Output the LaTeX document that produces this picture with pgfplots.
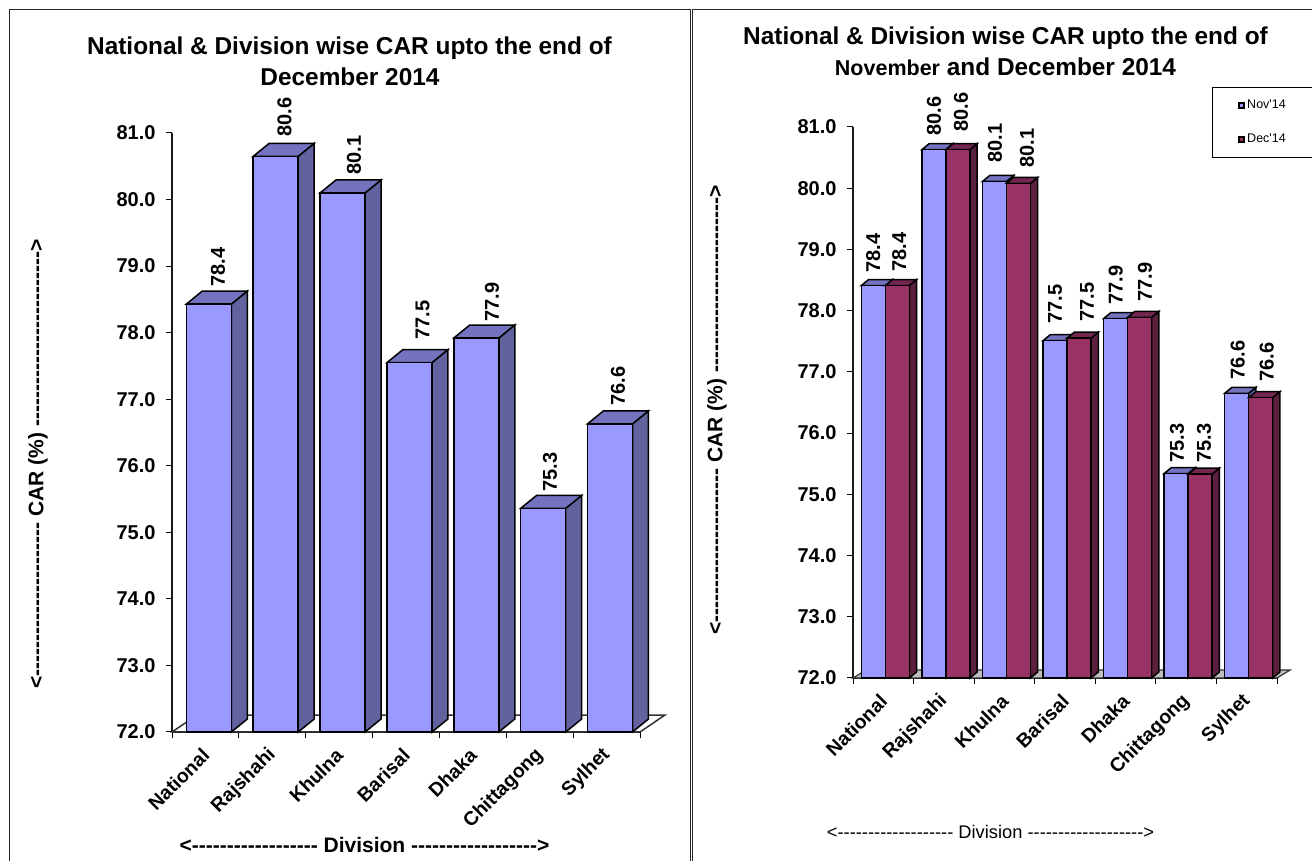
\documentclass[border=0pt]{standalone}
\usepackage{fontspec}
\setmainfont{Liberation Sans}[Ligatures=TeXOff]
\usepackage{pgfplots}
\pgfplotsset{compat=1.18}

\definecolor{blueF}{HTML}{9999FF}
\definecolor{blueS}{HTML}{62629F}
\definecolor{blueT}{HTML}{7373BF}
\definecolor{redF}{HTML}{993366}
\definecolor{redS}{HTML}{5C1F3D}
\definecolor{redT}{HTML}{732650}
\definecolor{floorG}{HTML}{C0C0C0}

\newcommand{\fs}[1]{\fontsize{#1}{#1}\selectfont}

% side and top faces of a bar: left, right, value, side colour, top colour
\newcommand{\depth}[5]{%
  \pgfmathsetmacro\xl{#1+\depx}%
  \pgfmathsetmacro\xr{#2+\depx}%
  \pgfmathsetmacro\yt{#3+\depy}%
  \pgfmathsetmacro\yb{72+\depy}%
  \addplot[forget plot,fill=#4,draw=black,line width=1.5pt] coordinates {(#2,72) (\xr,\yb) (\xr,\yt) (#2,#3)} --cycle;
  \addplot[forget plot,fill=#5,draw=black,line width=1.5pt] coordinates {(#1,#3) (\xl,\yt) (\xr,\yt) (#2,#3)} --cycle;
}

\pgfplotsset{
  car/.style={
    scale only axis,
    anchor=south west,
    clip=false,
    xmin=0, xmax=7, ymin=72, ymax=81,
    axis x line=bottom, axis y line=left,
    axis line style={black!90,line width=2pt,-},
    tick style={black,line width=1pt},
    tick align=outside,
    major tick length=6pt,
    xtick={0,1,2,3,4,5,6,7},
    xticklabels={,,,,,,,},
    ytick={72,73,74,75,76,77,78,79,80,81},
    yticklabel style={font=\fs{20}\bfseries,xshift=-7pt,/pgf/number format/.cd,fixed,fixed zerofill,precision=1,assume math mode=true},
    extra x ticks={0.5,1.5,2.5,3.5,4.5,5.5,6.5},
    extra x tick labels={National,Rajshahi,Khulna,Barisal,Dhaka,Chittagong,Sylhet},
    extra x tick style={major tick length=0pt,
      xticklabel style={font=\fs{19.5}\bfseries,rotate=45,anchor=east,xshift=-10.5pt,yshift=-14.5pt}},
  },
}

\begin{document}
\begin{tikzpicture}[x=1pt,y=1pt]
\useasboundingbox (0,0) rectangle (1312,861);

% left chart
\begin{axis}[car,at={(172pt,129pt)},width=468pt,height=599pt]
  \def\depx{0.239}\def\depy{0.195}
  \addplot[forget plot,fill=white,draw=black!80,line width=1.5pt] coordinates {(0,72) (7,72) (7.374,72.255) (0.374,72.255)} --cycle;
  \depth{0.215}{0.888}{78.43}{blueS}{blueT}
  \depth{1.215}{1.888}{80.65}{blueS}{blueT}
  \depth{2.215}{2.888}{80.10}{blueS}{blueT}
  \depth{3.215}{3.888}{77.55}{blueS}{blueT}
  \depth{4.215}{4.888}{77.92}{blueS}{blueT}
  \depth{5.215}{5.888}{75.36}{blueS}{blueT}
  \depth{6.215}{6.888}{76.63}{blueS}{blueT}
  \addplot[ybar,bar width=45pt,bar shift=0pt,fill=blueF,draw=black,line width=1.5pt] coordinates {
    (0.5515,78.43) (1.5515,80.65) (2.5515,80.10) (3.5515,77.55) (4.5515,77.92) (5.5515,75.36) (6.5515,76.63)};
\end{axis}

% right chart
\begin{axis}[car,at={(853pt,183pt)},width=424pt,height=551pt,
    legend style={at={(0.847,1.073)},anchor=north west,draw=black,line width=1pt,
      font=\fs{12.5},inner xsep=25pt,inner ysep=11pt,row sep=20pt},
    legend cell align=left]
  \def\depx{0.12}\def\depy{0.098}
  \addplot[forget plot,fill=floorG,draw=black!80,line width=1.2pt] coordinates {(0,72) (7,72) (7.2145,72.13) (0.2145,72.13)} --cycle;
  \depth{0.137}{0.533}{78.41}{blueS}{blueT}
  \depth{1.137}{1.533}{80.63}{blueS}{blueT}
  \depth{2.137}{2.533}{80.11}{blueS}{blueT}
  \depth{3.137}{3.533}{77.51}{blueS}{blueT}
  \depth{4.137}{4.533}{77.87}{blueS}{blueT}
  \depth{5.137}{5.533}{75.34}{blueS}{blueT}
  \depth{6.137}{6.533}{76.65}{blueS}{blueT}
  \addplot[ybar,bar width=24pt,bar shift=0pt,fill=blueF,draw=black,line width=1.5pt,
      legend image code/.code={\draw[fill=blueF,draw=black,line width=2pt] (0pt,-2.8pt) rectangle (5.6pt,2.8pt);}] coordinates {
    (0.335,78.41) (1.335,80.63) (2.335,80.11) (3.335,77.51) (4.335,77.87) (5.335,75.34) (6.335,76.65)};
  \addlegendentry{Nov'14}
  \depth{0.533}{0.929}{78.41}{redS}{redT}
  \depth{1.533}{1.929}{80.63}{redS}{redT}
  \depth{2.533}{2.929}{80.08}{redS}{redT}
  \depth{3.533}{3.929}{77.55}{redS}{redT}
  \depth{4.533}{4.929}{77.89}{redS}{redT}
  \depth{5.533}{5.929}{75.33}{redS}{redT}
  \depth{6.533}{6.929}{76.58}{redS}{redT}
  \addplot[ybar,bar width=24pt,bar shift=0pt,fill=redF,draw=black,line width=1.5pt,
      legend image code/.code={\draw[fill=redF,draw=black,line width=2pt] (0pt,-2.8pt) rectangle (5.6pt,2.8pt);}] coordinates {
    (0.731,78.41) (1.731,80.63) (2.731,80.08) (3.731,77.55) (4.731,77.89) (5.731,75.33) (6.731,76.58)};
  \addlegendentry{Dec'14}
\end{axis}

% frames, titles, axis captions and value labels, in pixels from the top left
\begin{scope}[shift={(0,861)},x=1pt,y=-1pt]
  \draw[black!85,line width=1pt] (9.5,861) -- (9.5,10) -- (690.5,10) -- (690.5,861);
  \draw[black!85,line width=1pt] (692.7,861) -- (692.7,10) -- (1312,10);

  \node[font=\fs{24.4}\bfseries,inner sep=0pt] at (349.5,48) {National \& Division wise CAR upto the end of};
  \node[font=\fs{24.4}\bfseries,inner sep=0pt] at (350,77) {December 2014};
  \node[font=\fs{24.4}\bfseries,inner sep=0pt] at (1005.5,38) {National \& Division wise CAR upto the end of};
  \node[font=\fs{24.4}\bfseries,inner sep=0pt] at (1005.5,67) {{\fs{21.5}November} and December 2014};

  \node[font=\fs{21}\bfseries,inner sep=0pt,rotate=90] at (38,464) {<---------------------- CAR (\%) ------------------------->};
  \node[font=\fs{21}\bfseries,inner sep=0pt,rotate=90] at (717,410) {<---------------------- CAR (\%) ------------------------->};
  \node[font=\fs{21}\bfseries,inner sep=0pt] at (364.5,845) {<------------------ Division ------------------>};
  \node[font=\fs{18.3},inner sep=0pt] at (990.5,832) {<------------------- Division ------------------->};

  \tikzset{val/.style={font=\fs{20}\bfseries,inner sep=0pt,rotate=90,anchor=west}}
  \node[val] at (218,287) {78.4};
  \node[val] at (284.6,137) {80.6};
  \node[val] at (354,175) {80.1};
  \node[val] at (422.7,340) {77.5};
  \node[val] at (492,321.7) {77.9};
  \node[val] at (550,492) {75.3};
  \node[val] at (618,406) {76.6};

  \node[val] at (873.3,272.7) {78.4};
  \node[val] at (899.3,271.7) {78.4};
  \node[val] at (934,136) {80.6};
  \node[val] at (961,132) {80.6};
  \node[val] at (995,163) {80.1};
  \node[val] at (1027,168) {80.1};
  \node[val] at (1055,324) {77.5};
  \node[val] at (1087,322) {77.5};
  \node[val] at (1115.7,305) {77.9};
  \node[val] at (1145,301.7) {77.9};
  \node[val] at (1177,463) {75.3};
  \node[val] at (1204,463) {75.3};
  \node[val] at (1237.7,380) {76.6};
  \node[val] at (1266.7,381.7) {76.6};
\end{scope}
\end{tikzpicture}
\end{document}
